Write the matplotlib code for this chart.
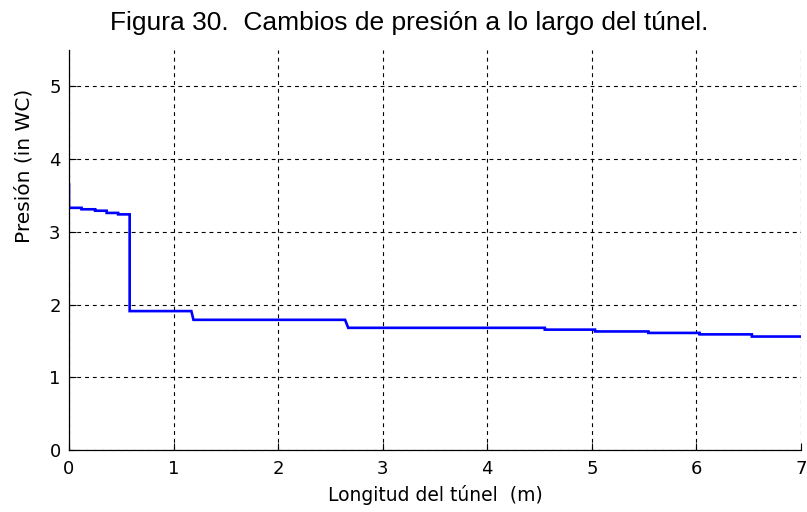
import matplotlib

matplotlib.use("Agg")
import matplotlib.pyplot as plt  # noqa: E402

# pressure profile along the tunnel
longitud = [0.0, 0.0, 0.12, 0.12, 0.25, 0.25, 0.36, 0.36, 0.47, 0.47, 0.58, 0.58,
            1.17, 1.19, 2.64, 2.67, 4.55, 4.55, 5.03, 5.03, 5.54, 5.54,
            6.03, 6.03, 6.53, 6.53, 7.0]
presion = [3.65, 3.33, 3.33, 3.31, 3.31, 3.29, 3.29, 3.26, 3.26, 3.24, 3.24, 1.91,
           1.91, 1.79, 1.79, 1.68, 1.68, 1.655, 1.655, 1.63, 1.63, 1.61,
           1.61, 1.59, 1.59, 1.56, 1.56]

x_ticks = [0, 1, 2, 3, 4, 5, 6, 7]
y_ticks = [0, 1, 2, 3, 4, 5]

fig = plt.figure(figsize=(8.07, 5.12), dpi=100)
ax = fig.add_axes([0.0855, 0.1211, 0.9071, 0.7812])

ax.plot(longitud, presion, color="#0000ff", lw=1.9, solid_joinstyle="miter")

ax.set_xlim(0, 7)
ax.set_ylim(0, 5.5)
ax.set_xticks(x_ticks)
ax.set_yticks(y_ticks)
ax.tick_params(direction="in", length=5, width=0.8, labelsize=13)
ax.tick_params(axis="x", pad=7)
ax.tick_params(axis="y", pad=6)
ax.grid(True, color="black", ls=(0, (3.5, 3.5)), lw=0.8)
for side in ("top", "right"):
    ax.spines[side].set_visible(False)
for side in ("left", "bottom"):
    ax.spines[side].set_linewidth(0.9)

ax.set_xlabel("Longitud del túnel  (m)", fontsize=13.5, labelpad=5)
ax.set_ylabel("Presión (in WC)", fontsize=14.5)
# the label sits above the middle of the axis in the original
ax.yaxis.set_label_coords(-0.049, 0.71)
fig.text(0.507, 0.955, "Figura 30.  Cambios de presión a lo largo del túnel.",
         ha="center", va="center", fontsize=19, family="Liberation Sans")

fig.savefig("out.png", dpi=100)
